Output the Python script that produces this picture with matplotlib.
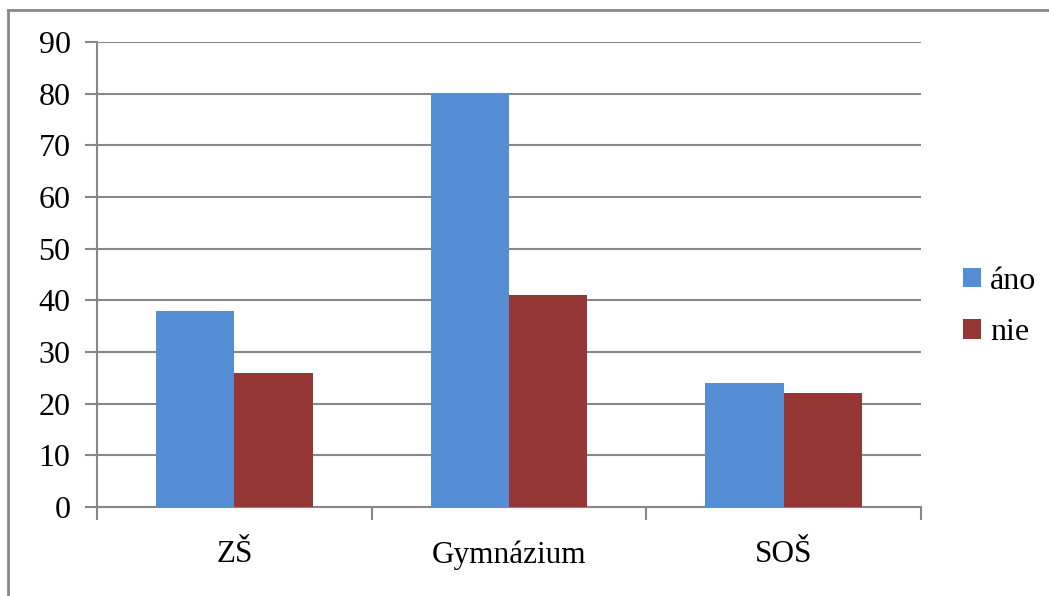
import matplotlib
matplotlib.use("Agg")
import matplotlib.pyplot as plt
import numpy as np
from matplotlib.lines import Line2D

categories = ["ZŠ", "Gymnázium", "SOŠ"]
series_names = ["áno", "nie"]
ano = [38, 80, 24]
nie = [26, 41, 22]
yticks = [0, 10, 20, 30, 40, 50, 60, 70, 80, 90]

plt.rcParams['font.family'] = ['Liberation Serif', 'DejaVu Serif']
W, H = 1049, 596
fig = plt.figure(figsize=(W/100, H/100), dpi=100)
ax = fig.add_axes([97/W, 1-507/H, (921-97)/W, (507-42)/H])

grid_c = "#878787"
x = np.arange(len(categories))
bw = 0.2857
ax.bar(x - bw/2, ano, bw, color="#558ED5", label=series_names[0], zorder=3)
ax.bar(x + bw/2, nie, bw, color="#953735", label=series_names[1], zorder=3)

ax.set_xlim(-0.5, len(categories) - 0.5)
ax.set_ylim(0, 90)
ax.set_yticks(yticks)
ax.set_yticklabels([str(v) for v in yticks], fontsize=23)
ax.set_xticks(np.arange(len(categories) + 1) - 0.5)
ax.set_xticklabels([])
ax.set_xticks(x, minor=True)
ax.set_xticklabels(categories, minor=True, fontsize=22.5)
ax.tick_params(axis='x', which='minor', length=0, pad=24)
ax.tick_params(axis='x', which='major', length=9, width=1.5, color=grid_c, direction='out')
ax.tick_params(axis='y', length=9, width=1.5, color=grid_c, direction='out', pad=10)
ax.yaxis.grid(True, color=grid_c, linewidth=1.5, zorder=0)
ax.set_axisbelow(True)
for s in ["top", "right"]:
    ax.spines[s].set_visible(False)
for s in ["left", "bottom"]:
    ax.spines[s].set_color(grid_c)
    ax.spines[s].set_linewidth(1.5)

leg = fig.legend(loc="upper left", bbox_to_anchor=(963/W, 1-267/H), frameon=False,
                 fontsize=23, handlelength=0.55, handleheight=0.55, handletextpad=0.3,
                 labelspacing=0.7, borderaxespad=0, borderpad=0)

# outer chart border (top and left visible)
fig.add_artist(Line2D([8/W, 8/W], [0, 1-10/H], transform=fig.transFigure, color="#878787", lw=2))
fig.add_artist(Line2D([8/W, 1], [1-10/H, 1-10/H], transform=fig.transFigure, color="#878787", lw=2))

fig.savefig("out.png", dpi=100)
